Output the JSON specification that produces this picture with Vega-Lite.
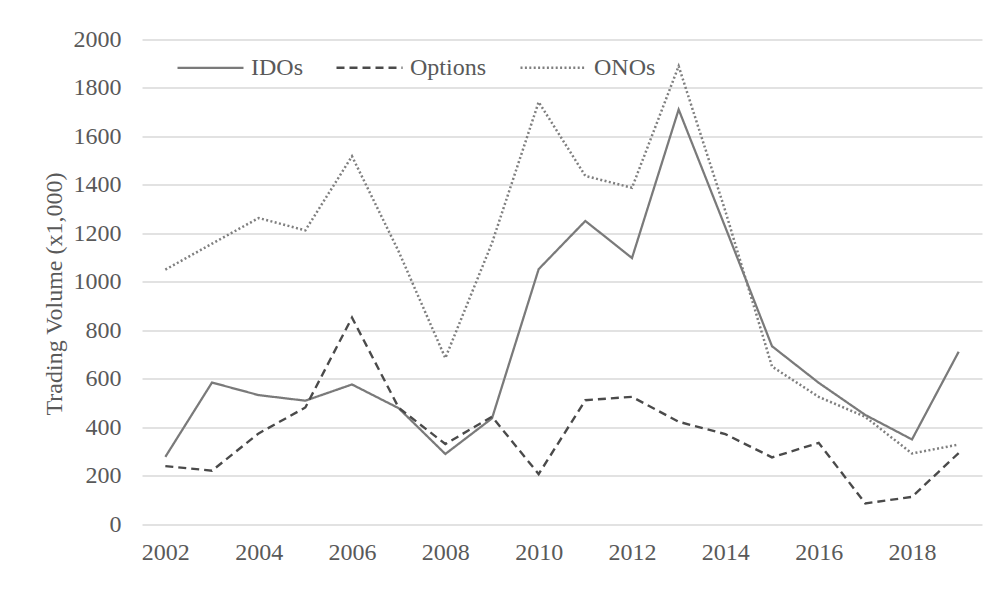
{
  "$schema": "https://vega.github.io/schema/vega-lite/v6.json",
  "width": 840,
  "height": 484.5,
  "autosize": {"type": "none"},
  "padding": {"left": 142, "top": 39.5, "right": 20, "bottom": 73},
  "background": "white",
  "config": {"view": {"stroke": null}, "font": "Liberation Serif"},
  "data": {
    "values": [
      {"year": 2002, "series": "IDOs", "value": 277},
      {"year": 2003, "series": "IDOs", "value": 584},
      {"year": 2004, "series": "IDOs", "value": 532},
      {"year": 2005, "series": "IDOs", "value": 509},
      {"year": 2006, "series": "IDOs", "value": 576},
      {"year": 2007, "series": "IDOs", "value": 478},
      {"year": 2008, "series": "IDOs", "value": 289},
      {"year": 2009, "series": "IDOs", "value": 436},
      {"year": 2010, "series": "IDOs", "value": 1052},
      {"year": 2011, "series": "IDOs", "value": 1251},
      {"year": 2012, "series": "IDOs", "value": 1098},
      {"year": 2013, "series": "IDOs", "value": 1711},
      {"year": 2014, "series": "IDOs", "value": 1225},
      {"year": 2015, "series": "IDOs", "value": 734},
      {"year": 2016, "series": "IDOs", "value": 583},
      {"year": 2017, "series": "IDOs", "value": 450},
      {"year": 2018, "series": "IDOs", "value": 349},
      {"year": 2019, "series": "IDOs", "value": 711},
      {"year": 2002, "series": "Options", "value": 239},
      {"year": 2003, "series": "Options", "value": 220},
      {"year": 2004, "series": "Options", "value": 374},
      {"year": 2005, "series": "Options", "value": 481},
      {"year": 2006, "series": "Options", "value": 852},
      {"year": 2007, "series": "Options", "value": 480},
      {"year": 2008, "series": "Options", "value": 330},
      {"year": 2009, "series": "Options", "value": 443},
      {"year": 2010, "series": "Options", "value": 206},
      {"year": 2011, "series": "Options", "value": 511},
      {"year": 2012, "series": "Options", "value": 525},
      {"year": 2013, "series": "Options", "value": 422},
      {"year": 2014, "series": "Options", "value": 371},
      {"year": 2015, "series": "Options", "value": 275},
      {"year": 2016, "series": "Options", "value": 335},
      {"year": 2017, "series": "Options", "value": 85},
      {"year": 2018, "series": "Options", "value": 112},
      {"year": 2019, "series": "Options", "value": 293},
      {"year": 2002, "series": "ONOs", "value": 1050},
      {"year": 2003, "series": "ONOs", "value": 1157},
      {"year": 2004, "series": "ONOs", "value": 1263},
      {"year": 2005, "series": "ONOs", "value": 1212},
      {"year": 2006, "series": "ONOs", "value": 1518},
      {"year": 2007, "series": "ONOs", "value": 1125},
      {"year": 2008, "series": "ONOs", "value": 685},
      {"year": 2009, "series": "ONOs", "value": 1160},
      {"year": 2010, "series": "ONOs", "value": 1742},
      {"year": 2011, "series": "ONOs", "value": 1437},
      {"year": 2012, "series": "ONOs", "value": 1388},
      {"year": 2013, "series": "ONOs", "value": 1890},
      {"year": 2014, "series": "ONOs", "value": 1292},
      {"year": 2015, "series": "ONOs", "value": 650},
      {"year": 2016, "series": "ONOs", "value": 525},
      {"year": 2017, "series": "ONOs", "value": 442},
      {"year": 2018, "series": "ONOs", "value": 291},
      {"year": 2019, "series": "ONOs", "value": 328}
    ]
  },
  "mark": {"type": "line"},
  "encoding": {
    "x": {
      "field": "year",
      "type": "ordinal",
      "scale": {"type": "point", "padding": 0.5},
      "axis": {
        "values": [2002, 2004, 2006, 2008, 2010, 2012, 2014, 2016, 2018],
        "labelAngle": 0,
        "title": null,
        "domain": false,
        "ticks": false,
        "tickSize": 0,
        "grid": false,
        "labelPadding": 35,
        "labelBaseline": "alphabetic",
        "labelFontSize": 24,
        "labelColor": "#595959",
        "labelFont": "Liberation Serif"
      }
    },
    "y": {
      "field": "value",
      "type": "quantitative",
      "scale": {"domain": [0, 2000], "nice": false},
      "axis": {
        "values": [0, 200, 400, 600, 800, 1000, 1200, 1400, 1600, 1800, 2000],
        "format": "d",
        "domain": false,
        "ticks": false,
        "tickSize": 0,
        "grid": true,
        "gridColor": "#d9d9d9",
        "gridWidth": 1.5,
        "labelPadding": 21,
        "labelFontSize": 24,
        "labelColor": "#595959",
        "labelFont": "Liberation Serif",
        "title": "Trading Volume (x1,000)",
        "titleFont": "Liberation Serif",
        "titleFontSize": 24,
        "titleFontWeight": "normal",
        "titleColor": "#595959",
        "titleAngle": -90,
        "titleAlign": "center",
        "titleBaseline": "alphabetic",
        "titleX": -81,
        "titleY": 254
      }
    },
    "color": {
      "field": "series",
      "type": "nominal",
      "scale": {"domain": ["IDOs", "Options", "ONOs"], "range": ["#7a7a7a", "#4a4a4a", "#7f7f7f"]},
      "legend": {
        "orient": "none",
        "legendX": 34,
        "legendY": -6.5,
        "direction": "horizontal",
        "title": null,
        "symbolType": "stroke",
        "symbolSize": 4356,
        "symbolStrokeWidth": 2.25,
        "labelFontSize": 24,
        "labelFont": "Liberation Serif",
        "labelColor": "#595959",
        "labelOffset": 6,
        "columnPadding": 28,
        "padding": 0,
        "labelLimit": 0
      }
    },
    "strokeDash": {
      "field": "series",
      "type": "nominal",
      "scale": {"domain": ["IDOs", "Options", "ONOs"], "range": [[1, 0], [8, 5], [2, 2.4]]},
      "legend": {
        "orient": "none",
        "legendX": 34,
        "legendY": -6.5,
        "direction": "horizontal",
        "title": null,
        "symbolType": "stroke",
        "symbolSize": 4356,
        "symbolStrokeWidth": 2.25,
        "labelFontSize": 24,
        "labelFont": "Liberation Serif",
        "labelColor": "#595959",
        "labelOffset": 6,
        "columnPadding": 28,
        "padding": 0,
        "labelLimit": 0
      }
    },
    "strokeWidth": {
      "field": "series",
      "type": "nominal",
      "scale": {"domain": ["IDOs", "Options", "ONOs"], "range": [2.25, 2.5, 2]},
      "legend": null
    }
  }
}
